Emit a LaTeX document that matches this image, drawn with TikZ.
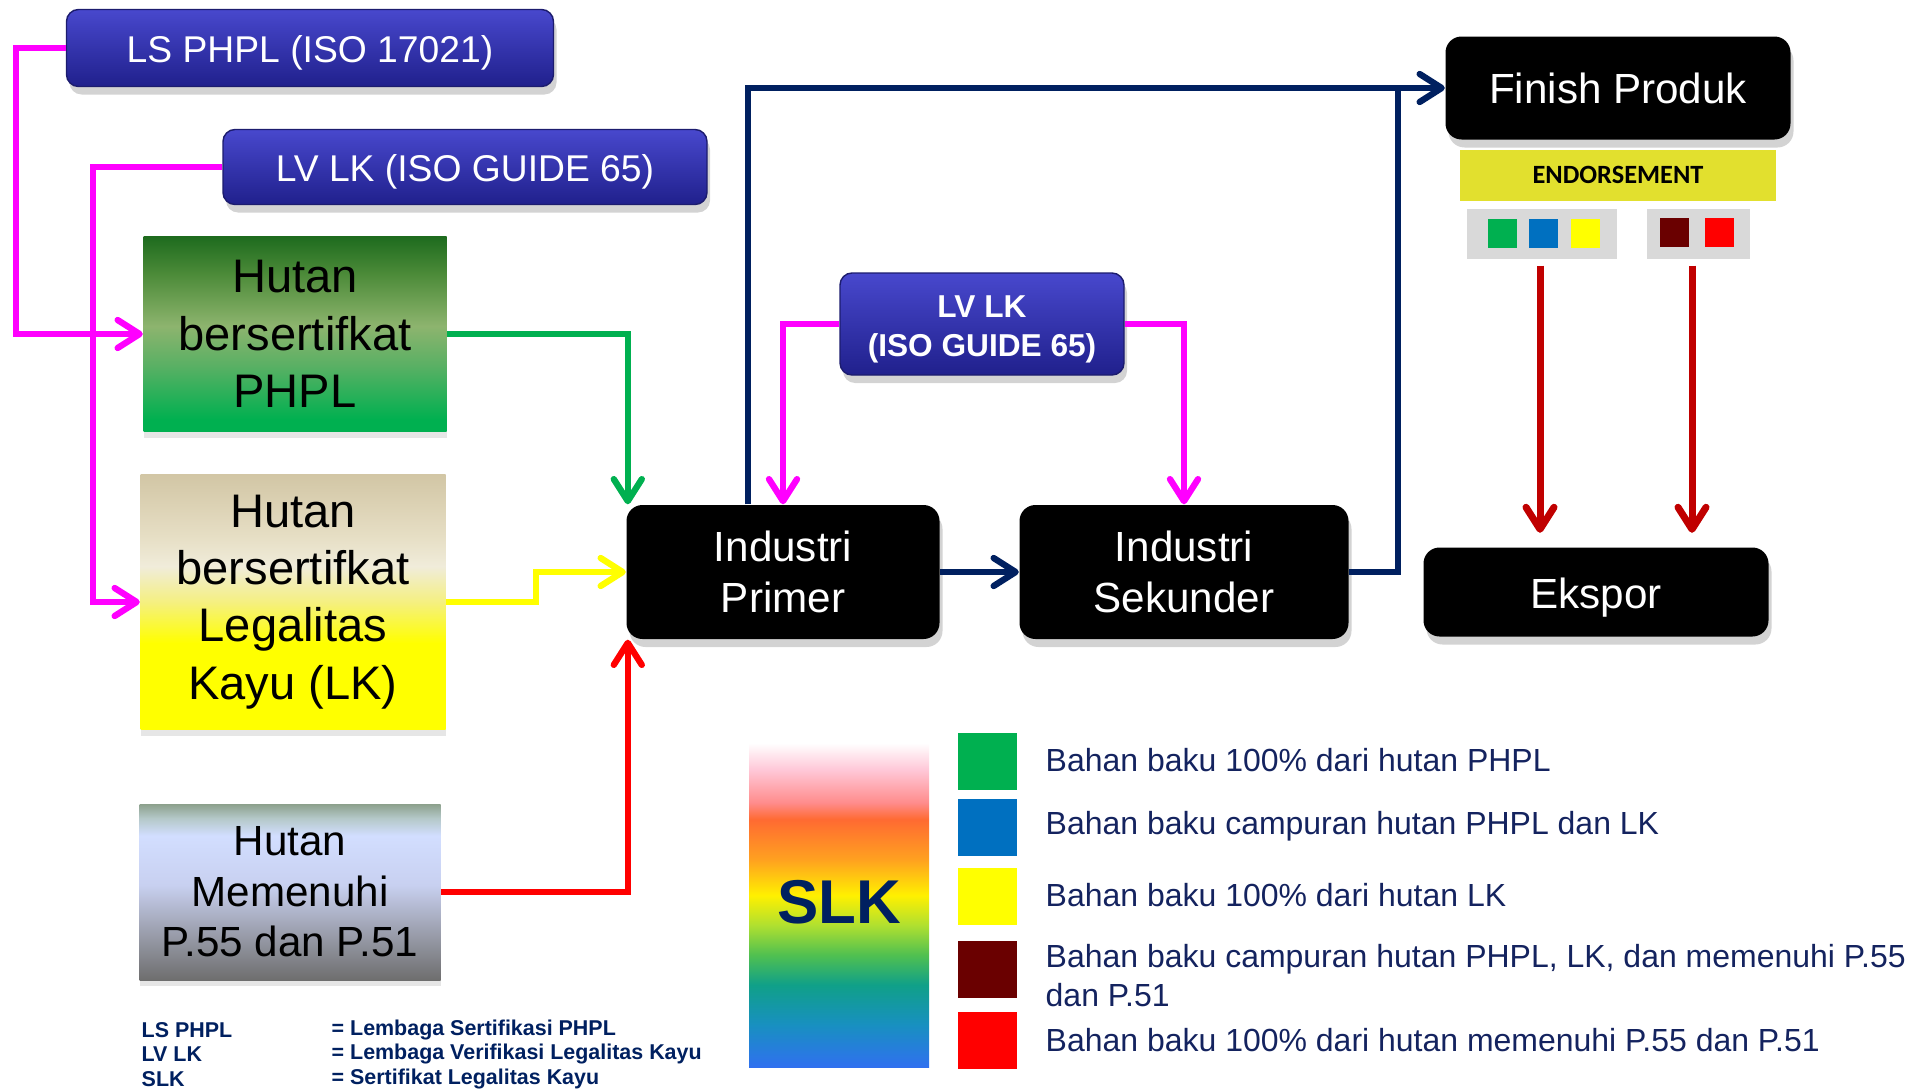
\documentclass[tikz,border=0pt]{standalone}
\usepackage{fontspec}
\setmainfont{Liberation Sans}
\newfontfamily\calfont{Carlito}
\usetikzlibrary{arrows.meta,shadows}

\newcommand{\dropln}[1]{\raisebox{-1.5pt}[\height][\depth]{#1}}

\definecolor{navyline}{RGB}{0,32,96}
\definecolor{magline}{RGB}{255,0,255}
\definecolor{grnline}{RGB}{0,176,80}
\definecolor{yelline}{RGB}{255,255,0}
\definecolor{redline}{RGB}{255,0,0}
\definecolor{darkred}{RGB}{192,0,0}
\definecolor{legtext}{RGB}{20,35,95}
\definecolor{endorse}{RGB}{226,224,46}
\definecolor{boxgray}{RGB}{217,217,217}
\definecolor{bluetop}{RGB}{72,72,205}
\definecolor{bluemid}{RGB}{42,42,170}
\definecolor{bluebot}{RGB}{32,32,140}
\definecolor{bluerim}{RGB}{28,28,110}
\definecolor{sqgreen}{RGB}{0,176,80}
\definecolor{sqblue}{RGB}{0,112,192}
\definecolor{sqyellow}{RGB}{255,255,0}
\definecolor{sqmaroon}{RGB}{106,0,0}
\definecolor{sqred}{RGB}{255,0,0}

\definecolor{gA}{RGB}{0,176,80}
\definecolor{gB}{RGB}{90,176,100}
\definecolor{gC}{RGB}{141,180,110}
\definecolor{gD}{RGB}{78,140,58}
\definecolor{gE}{RGB}{30,107,30}
\pgfdeclareverticalshading{phplshade}{100bp}{color(0bp)=(gA); color(28bp)=(gA); color(42bp)=(gB); color(52bp)=(gC); color(65bp)=(gD); color(75bp)=(gE); color(100bp)=(gE)}

\definecolor{lA}{RGB}{255,255,0}
\definecolor{lB}{RGB}{245,240,128}
\definecolor{lC}{RGB}{240,236,218}
\definecolor{lD}{RGB}{230,222,196}
\definecolor{lE}{RGB}{210,198,165}
\pgfdeclareverticalshading{legalshade}{100bp}{color(0bp)=(lA); color(42bp)=(lA); color(50bp)=(lB); color(57bp)=(lC); color(63bp)=(lD); color(75bp)=(lE); color(100bp)=(lE)}

\definecolor{mA}{RGB}{110,110,110}
\definecolor{mB}{RGB}{160,164,180}
\definecolor{mC}{RGB}{200,208,240}
\definecolor{mD}{RGB}{210,222,255}
\definecolor{mE}{RGB}{180,200,200}
\definecolor{mF}{RGB}{140,160,140}
\pgfdeclareverticalshading{pshade}{100bp}{color(0bp)=(mA); color(25bp)=(mA); color(40bp)=(mB); color(52bp)=(mC); color(66bp)=(mD); color(71bp)=(mE); color(75bp)=(mF); color(100bp)=(mF)}

\definecolor{sA}{RGB}{48,112,240}
\definecolor{sB}{RGB}{24,144,192}
\definecolor{sC}{RGB}{16,160,136}
\definecolor{sD}{RGB}{80,192,80}
\definecolor{sE}{RGB}{176,224,48}
\definecolor{sF}{RGB}{255,240,0}
\definecolor{sG}{RGB}{255,160,32}
\definecolor{sH}{RGB}{255,106,50}
\definecolor{sI}{RGB}{255,140,140}
\definecolor{sJ}{RGB}{255,200,216}
\pgfdeclareverticalshading{slkshade}{100bp}{color(0bp)=(sA); color(25bp)=(sA); color(31.5bp)=(sB); color(37.5bp)=(sC); color(42bp)=(sD); color(46.5bp)=(sE); color(51bp)=(sF); color(56.5bp)=(sG); color(62.5bp)=(sH); color(65bp)=(sI); color(70bp)=(sJ); color(74bp)=(white); color(100bp)=(white)}

\begin{document}
\begin{tikzpicture}[x=0.1mm,y=-0.1mm,
		bluebox/.style={rounded corners=1.2mm, draw=bluerim, top color=bluetop, middle color=bluemid, bottom color=bluebot, text=white, font=\fontsize{10.6}{12}\selectfont, drop shadow={shadow xshift=0.3mm, shadow yshift=-0.8mm, opacity=0.35}},
		blackbox/.style={rounded corners=1.6mm, fill=black, text=white, align=center, font=\fontsize{12}{14.5}\selectfont, drop shadow={shadow xshift=0.3mm, shadow yshift=-0.8mm, opacity=0.35}},
		forest/.style={align=center, font=\fontsize{13.4}{16.3}\selectfont, drop shadow={shadow xshift=0mm, shadow yshift=-0.6mm, opacity=0.2}},
		link/.style={line width=1.8pt, -{Straight Barb[length=2.2mm,width=2.8mm,round]}},
		chip/.style={minimum size=2.9mm, inner sep=0pt},
		legbox/.style={minimum width=5.9mm, minimum height=5.7mm, inner sep=0pt},
		legtxt/.style={anchor=west, align=left, inner sep=0pt, text=legtext, font=\fontsize{9.1}{11.1}\selectfont},
		abbr/.style={anchor=west, inner sep=0pt, text=navyline, font=\bfseries\fontsize{6.1}{7}\selectfont}]
	\useasboundingbox (0,0) rectangle (1909,1090);
	\coordinate (ystep) at (536,0);
	\coordinate (navytop) at (748,88);
	\coordinate (navyjoin) at (1398,88);

	\node[bluebox, minimum width=48.7mm, minimum height=7.7mm] (lsphpl) at (310,48) {\dropln{LS PHPL (ISO 17021)}};
	\node[bluebox, minimum width=48.4mm, minimum height=7.5mm] (lvlk) at (465,167) {\dropln{LV LK (ISO GUIDE 65)}};
	\node[forest, shade, shading=phplshade, minimum width=30.3mm, minimum height=19.5mm] (phpl) at (295,334) {Hutan\\bersertifkat\\PHPL};
	\node[forest, shade, shading=legalshade, minimum width=30.5mm, minimum height=25.5mm] (legal) at (293,602) {Hutan\\bersertifkat\\Legalitas\\Kayu (LK)};
	\node[forest, shade, shading=pshade, font=\fontsize{12}{14.4}\selectfont, minimum width=30.1mm, minimum height=17.6mm] (memenuhi) at (290,892) {Hutan\\Memenuhi\\P.55 dan P.51};
	\node[blackbox, minimum width=31.3mm, minimum height=13.4mm] (primer) at (783,572) {Industri\\Primer};
	\node[bluebox, align=center, font=\bfseries\fontsize{9}{11.1}\selectfont, minimum width=28.4mm, minimum height=10.2mm] (lvlkind) at (982,324) {\dropln{LV LK}\\\dropln{(ISO GUIDE 65)}};
	\node[blackbox, minimum width=32.9mm, minimum height=13.4mm] (sekunder) at (1184,572) {Industri\\Sekunder};
	\node[blackbox, minimum width=34.5mm, minimum height=10.3mm] (finish) at (1618,88) {Finish Produk};
	\node[fill=endorse, minimum width=31.6mm, minimum height=5.1mm, inner sep=0pt, font=\calfont\bfseries\fontsize{7.5}{9}\selectfont] (endorse) at (1618,175) {ENDORSEMENT};
	\node[fill=boxgray, minimum width=15mm, minimum height=5mm] (grpa) at (1542,234) {};
	\node[fill=boxgray, minimum width=10.3mm, minimum height=5mm] (grpb) at (1698,234) {};
	\node[chip, fill=sqgreen] (cga) at (1502,233) {};
	\node[chip, fill=sqblue] (cgb) at (1543,233) {};
	\node[chip, fill=sqyellow] (cgc) at (1585,233) {};
	\node[chip, fill=sqmaroon] (cgd) at (1674,232) {};
	\node[chip, fill=sqred] (cge) at (1719,232) {};
	\node[blackbox, minimum width=34.5mm, minimum height=8.9mm] (ekspor) at (1596,592) {\dropln{Ekspor}};

	\draw[link, magline] (lsphpl.west) -- ++(-50,0) |- (phpl.west);
	\draw[link, magline] (lvlk.west) -- ++(-129,0) |- (legal.west);
	\draw[link, grnline] (phpl.east) -| ([xshift=0.2mm]primer.north west);
	\draw[link, yelline] (legal.east) -- (legal.east -| ystep) |- (primer.west);
	\draw[link, redline] (memenuhi.east) -| ([xshift=0.2mm]primer.south west);
	\draw[link, magline] (lvlkind.west) -| (primer.north);
	\draw[link, magline] (lvlkind.east) -| (sekunder.north);
	\draw[link, navyline] (primer.east) -- (sekunder.west);
	\draw[link, navyline] (primer.north -| navytop) |- (finish.west);
	\draw[line width=1.8pt, navyline] (sekunder.east) -| (navyjoin);
	\draw[link, darkred, line width=2pt] ([xshift=-0.2mm,yshift=-0.6mm]grpa.south) -- ([xshift=-0.2mm,yshift=1.4mm]grpa.south |- ekspor.north);
	\draw[link, darkred, line width=2pt] ([xshift=-0.6mm,yshift=-0.6mm]grpb.south) -- ([xshift=-0.6mm,yshift=1.4mm]grpb.south |- ekspor.north);

	\node[shade, shading=slkshade, minimum width=18mm, minimum height=33.1mm, text=navyline, font=\bfseries\fontsize{17.6}{20}\selectfont] (slk) at (839,902) {SLK};
	\node[legbox, fill=sqgreen] (lga) at (987,761) {};
	\node[legbox, fill=sqblue] (lgb) at (987,827) {};
	\node[legbox, fill=sqyellow] (lgc) at (987,896) {};
	\node[legbox, fill=sqmaroon] (lgd) at (987,969) {};
	\node[legbox, fill=sqred] (lge) at (987,1040) {};
	\node[legtxt] (lta) at (1045,760) {Bahan baku 100\% dari hutan PHPL};
	\node[legtxt] (ltb) at (1045,826) {Bahan baku campuran hutan PHPL dan LK};
	\node[legtxt] (ltc) at (1045,895) {Bahan baku 100\% dari hutan LK};
	\node[legtxt] (ltd) at (1045,976) {Bahan baku campuran hutan PHPL, LK, dan memenuhi P.55\\dan P.51};
	\node[legtxt] (lte) at (1045,1040) {Bahan baku 100\% dari hutan memenuhi P.55 dan P.51};

	\node[abbr] (aba) at (141,1030) {LS PHPL};
	\node[abbr] (abb) at (141,1054) {LV LK};
	\node[abbr] (abc) at (141,1079) {SLK};
	\node[abbr] (ada) at (331,1030) {= Lembaga Sertifikasi PHPL};
	\node[abbr] (adb) at (331,1054) {= Lembaga Verifikasi Legalitas Kayu};
	\node[abbr] (adc) at (331,1079) {= Sertifikat Legalitas Kayu};
\end{tikzpicture}
\end{document}
